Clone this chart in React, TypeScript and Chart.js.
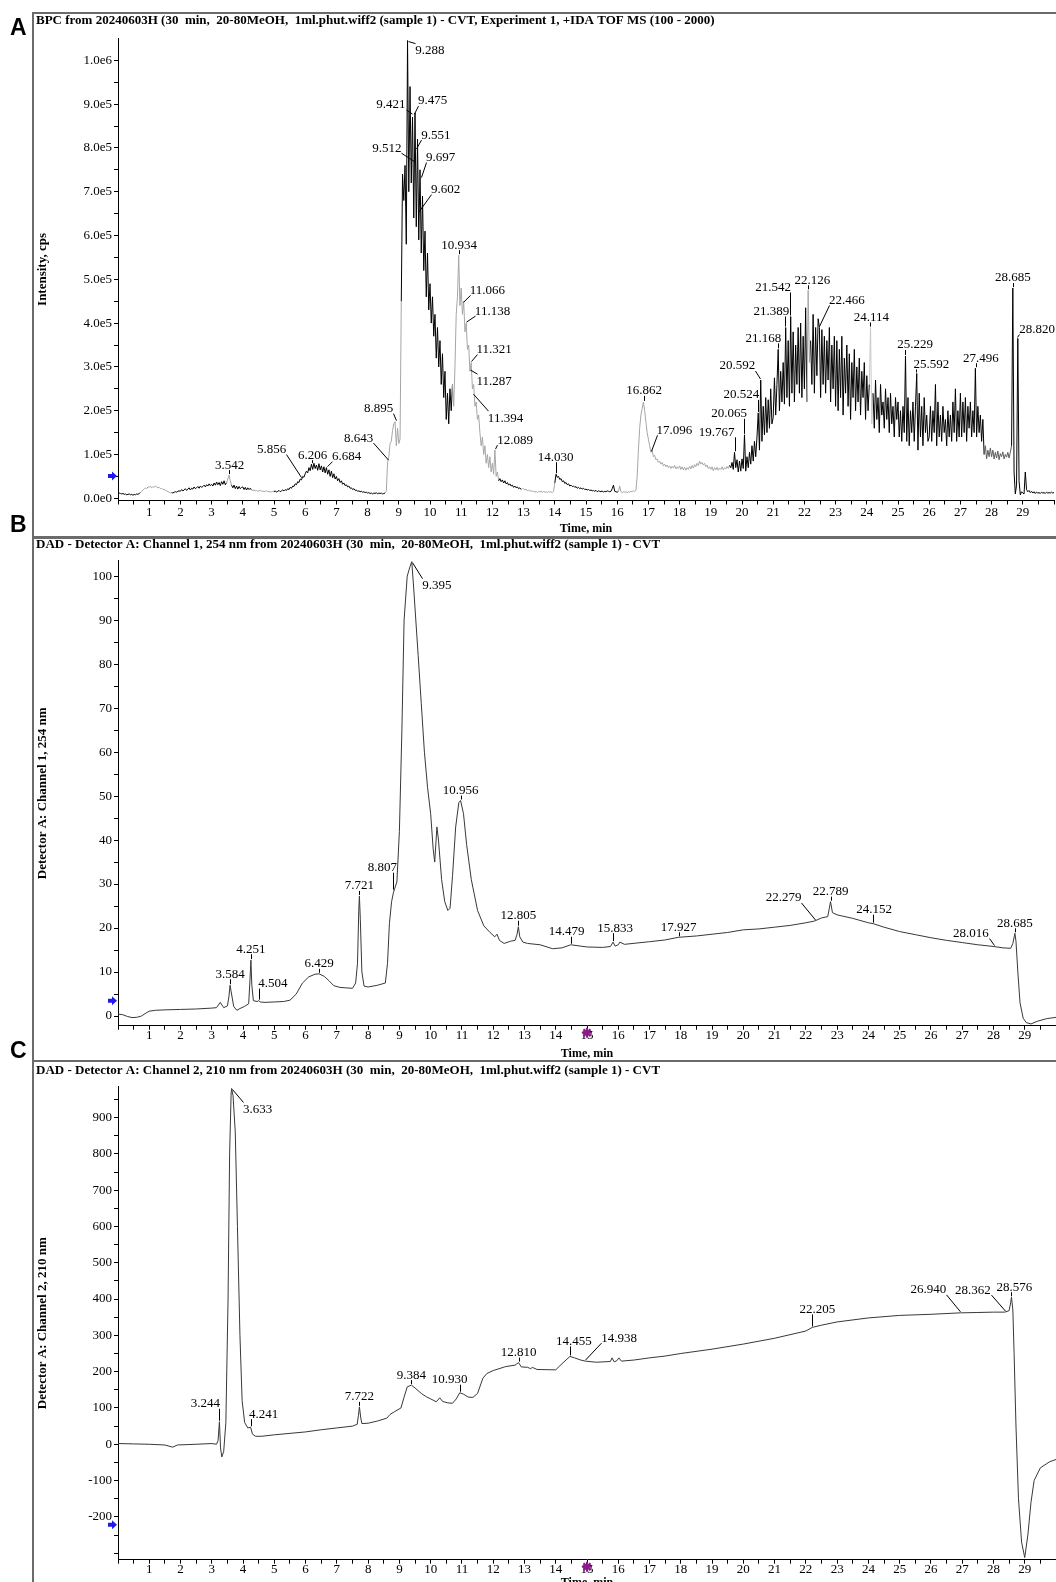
import React, { useEffect, useRef } from 'react';
import { Chart, registerables } from 'chart.js';

Chart.register(...registerables);

const SERIF = '"Liberation Serif", "Times New Roman", serif';

// ================= DATA =================
// Panel A: BPC intensity (units of 1e5 cps), sampled every 0.04 min from 0 to 30 min
const BPC_SAMPLE_STEP_MIN = 0.04;
const bpcIntensityE5 = [
  // 0 min
  0.13,0.12,0.11,0.10,0.11,0.09,0.10,0.08,0.09,0.10,0.08,0.09,0.07,0.09,0.08,0.10,0.09,0.11,0.13,0.16,0.19,0.21,0.24,0.22,0.26,
  // 1
  0.25,0.28,0.24,0.27,0.25,0.28,0.26,0.24,0.25,0.22,0.23,0.20,0.21,0.18,0.17,0.15,0.14,0.12,0.13,0.12,0.14,0.15,0.14,0.16,0.17,
  // 2
  0.16,0.20,0.17,0.19,0.22,0.18,0.21,0.24,0.19,0.23,0.21,0.26,0.22,0.24,0.27,0.23,0.28,0.25,0.27,0.30,0.26,0.31,0.28,0.33,0.29,
  // 3
  0.32,0.28,0.35,0.30,0.37,0.31,0.36,0.29,0.38,0.32,0.40,0.31,0.36,0.44,0.53,0.40,0.30,0.24,0.30,0.22,0.28,0.21,0.27,0.22,0.25,
  // 4
  0.26,0.20,0.25,0.19,0.24,0.20,0.23,0.19,0.18,0.19,0.17,0.18,0.16,0.17,0.18,0.16,0.17,0.15,0.16,0.17,0.15,0.16,0.14,0.15,0.16,
  // 5
  0.15,0.17,0.14,0.16,0.18,0.15,0.17,0.19,0.17,0.20,0.18,0.22,0.20,0.25,0.23,0.28,0.27,0.33,0.31,0.38,0.36,0.44,0.42,0.50,0.48,
  // 6
  0.56,0.62,0.58,0.70,0.63,0.78,0.66,0.80,0.68,0.76,0.64,0.79,0.65,0.74,0.60,0.72,0.58,0.70,0.55,0.65,0.50,0.62,0.47,0.56,0.44,
  // 7
  0.50,0.40,0.45,0.36,0.40,0.32,0.35,0.29,0.31,0.26,0.28,0.23,0.24,0.20,0.22,0.18,0.19,0.16,0.17,0.15,0.16,0.14,0.15,0.13,0.14,
  // 8
  0.12,0.13,0.11,0.12,0.10,0.12,0.11,0.13,0.10,0.12,0.11,0.12,0.10,0.11,0.12,0.16,0.82,0.95,1.25,1.30,1.55,1.70,1.75,1.20,1.60,
  // 9
  1.25,1.35,4.50,7.40,6.80,7.60,5.80,10.45,7.00,9.40,7.20,8.70,6.40,8.80,6.20,8.20,5.90,7.50,5.60,6.90,5.20,6.10,4.60,5.60,4.30,
  // 10
  4.90,4.00,4.60,3.70,4.20,3.20,3.90,3.00,3.60,2.60,3.30,2.30,2.90,1.80,2.40,1.70,2.50,2.00,2.60,2.10,3.00,4.20,4.60,5.55,4.40,
  // 11
  4.80,4.20,4.50,3.80,4.00,3.40,3.50,2.90,3.10,2.50,2.60,2.10,2.20,1.80,1.90,1.50,1.20,1.40,1.00,1.20,0.80,1.00,0.70,0.95,0.60,
  // 12
  0.80,0.55,1.10,0.50,0.60,0.40,0.45,0.38,0.42,0.35,0.40,0.33,0.36,0.30,0.33,0.28,0.30,0.25,0.28,0.24,0.26,0.22,0.24,0.20,0.22,
  // 13
  0.22,0.19,0.21,0.17,0.19,0.16,0.18,0.15,0.17,0.14,0.16,0.13,0.16,0.14,0.17,0.13,0.16,0.14,0.15,0.13,0.16,0.14,0.15,0.13,0.16,
  // 14
  0.35,0.55,0.48,0.50,0.43,0.45,0.38,0.40,0.34,0.36,0.31,0.33,0.28,0.30,0.27,0.28,0.25,0.27,0.23,0.25,0.22,0.24,0.21,0.23,0.20,
  // 15
  0.21,0.19,0.20,0.18,0.19,0.17,0.18,0.16,0.18,0.15,0.17,0.16,0.15,0.17,0.14,0.16,0.15,0.17,0.16,0.15,0.16,0.22,0.30,0.16,0.15,
  // 16
  0.14,0.16,0.28,0.15,0.13,0.15,0.14,0.15,0.13,0.15,0.14,0.16,0.15,0.17,0.16,0.18,0.50,1.10,1.60,1.90,2.05,2.20,2.00,1.75,1.50,
  // 17
  1.35,1.20,1.05,1.10,0.95,0.98,0.88,0.90,0.82,0.85,0.78,0.82,0.74,0.78,0.72,0.76,0.70,0.74,0.68,0.73,0.69,0.75,0.67,0.72,0.68,
  // 18
  0.74,0.66,0.72,0.65,0.71,0.64,0.70,0.66,0.73,0.67,0.75,0.69,0.77,0.72,0.80,0.75,0.85,0.78,0.82,0.76,0.80,0.72,0.76,0.68,0.72,
  // 19
  0.66,0.72,0.63,0.70,0.65,0.71,0.64,0.69,0.66,0.72,0.65,0.70,0.67,0.73,0.68,0.75,0.70,0.82,0.66,1.05,0.70,0.88,0.60,0.85,0.62,
  // 20
  0.90,0.68,1.45,0.62,0.95,0.70,1.05,0.78,1.20,0.85,1.30,0.95,1.40,1.95,1.10,2.70,1.30,2.10,1.45,2.30,1.50,2.25,1.60,2.50,1.70,
  // 21
  1.85,2.75,1.90,2.60,3.40,2.00,2.90,2.20,3.10,2.15,3.90,2.30,3.60,2.10,4.15,2.40,3.80,2.20,3.50,2.60,3.90,2.40,4.00,2.30,3.70,
  // 22
  2.50,4.35,2.20,4.75,3.10,3.60,2.60,4.20,2.40,3.90,2.80,4.10,3.90,2.30,3.85,2.60,3.70,2.40,3.60,2.70,3.90,2.20,3.50,2.50,3.70,
  // 23
  2.10,3.60,2.00,3.40,2.30,3.70,1.90,3.20,2.40,3.50,2.10,3.30,1.80,3.10,2.30,3.40,2.00,3.00,2.20,3.20,1.90,2.90,2.30,3.10,1.80,
  // 24
  2.80,2.00,2.60,3.90,1.70,2.40,1.60,2.70,1.80,2.30,1.50,2.60,1.90,2.20,1.60,2.50,1.80,2.30,1.50,2.40,1.70,2.10,1.40,2.30,1.80,
  // 25
  2.20,1.40,2.00,1.30,2.10,1.50,3.25,1.30,2.30,1.20,2.00,1.50,2.20,1.30,2.10,2.85,1.10,2.40,1.40,2.10,1.20,2.30,1.50,1.90,1.30,
  // 26
  1.40,2.10,1.30,2.00,1.50,2.60,1.20,2.20,1.40,1.90,1.30,2.10,1.50,1.80,1.20,2.00,1.40,1.90,1.30,2.20,1.50,2.50,1.30,2.00,1.40,
  // 27
  2.40,1.40,2.20,1.50,2.30,1.30,2.10,1.60,2.20,1.40,2.00,1.50,2.97,1.40,2.10,1.50,1.90,1.30,1.80,1.00,1.20,0.90,1.10,0.95,1.15,
  // 28
  0.95,1.10,0.90,1.05,0.92,1.08,0.88,1.02,0.95,1.06,0.90,1.00,0.94,1.05,0.92,1.05,1.20,4.80,0.60,0.10,0.30,3.65,0.40,0.08,0.15,
  // 29
  0.12,0.10,0.60,0.20,0.15,0.18,0.13,0.16,0.12,0.15,0.11,0.14,0.12,0.13,0.11,0.14,0.12,0.13,0.11,0.14,0.12,0.13,0.12,0.14,0.12,
  // 30
  0.13,
];
const bpcTimes = bpcIntensityE5.map((_, i) => Math.round(i * BPC_SAMPLE_STEP_MIN * 100) / 100);

// Panel B: DAD channel 1, 254 nm
const dad254Times = [
  0, 0.15, 0.3, 0.45, 0.6, 0.75, 0.9, 1.0, 1.2, 1.5,
  2.0, 2.5, 3.0, 3.15, 3.27, 3.38, 3.5, 3.55, 3.584, 3.62,
  3.7, 3.8, 3.9, 4.05, 4.18, 4.22, 4.251, 4.28, 4.33, 4.45,
  4.504, 4.55, 4.7, 5.0, 5.3, 5.5, 5.7, 5.9, 6.1, 6.3,
  6.429, 6.6, 6.75, 6.9, 7.1, 7.3, 7.5, 7.6, 7.66, 7.70,
  7.721, 7.75, 7.80, 7.87, 8.0, 8.3, 8.55, 8.62, 8.68, 8.75,
  8.807, 8.85, 8.92, 9.0, 9.08, 9.15, 9.25, 9.34, 9.395, 9.45,
  9.6, 9.7, 9.8, 9.9, 10.0, 10.08, 10.13, 10.2, 10.25, 10.35,
  10.45, 10.55, 10.62, 10.7, 10.8, 10.9, 10.956, 11.05, 11.15, 11.3,
  11.5, 11.7, 11.9, 12.05, 12.12, 12.2, 12.35, 12.55, 12.7, 12.76,
  12.805, 12.85, 12.95, 13.1, 13.5, 13.9, 14.2, 14.479, 15.0, 15.5,
  15.75, 15.833, 15.9, 16.0, 16.05, 16.2, 16.6, 17.0, 17.5, 17.927,
  18.5, 19.0, 19.5, 20.0, 20.5, 21.0, 21.5, 22.0, 22.279, 22.5,
  22.7, 22.75, 22.789, 22.85, 23.0, 23.5, 24.0, 24.152, 24.5, 25.0,
  25.5, 26.0, 26.5, 27.0, 27.5, 28.016, 28.3, 28.55, 28.62, 28.685,
  28.72, 28.78, 28.85, 28.95, 29.05, 29.2, 29.4, 29.7, 30.0,
];
const dad254Values = [
  0.45, 0.3, -0.1, -0.35, -0.3, 0.0, 0.7, 1.1, 1.3, 1.4,
  1.5, 1.6, 1.8, 1.9, 3.1, 1.9, 2.3, 4.5, 7.0, 5.5,
  2.2, 1.3, 1.7, 2.2, 2.8, 8.0, 12.7, 7.0, 3.5, 3.3,
  3.5, 3.2, 3.1, 3.2, 3.3, 3.6, 5.0, 7.5, 8.9, 9.5,
  9.6, 9.0, 8.0, 6.9, 6.5, 6.4, 6.3, 7.5, 12, 24,
  27.3, 22, 10, 6.8, 6.6, 7.0, 7.5, 12, 21, 26,
  28, 29, 30.5, 42, 65, 90, 100, 102.2, 103.3, 98,
  82, 71, 60, 52, 46, 38, 35, 43, 40, 31,
  26, 24, 24.5, 32, 43, 48.5, 49, 46, 39, 31,
  24, 20.5, 19, 18, 18.6, 17.2, 16.5, 17, 17.2, 18.5,
  20.3, 18, 16.8, 16.5, 16.2, 15.3, 15.5, 16.2, 15.7, 15.6,
  15.8, 16.8, 15.9, 16.2, 16.8, 16.3, 16.6, 16.9, 17.3, 17.9,
  18.2, 18.6, 19.0, 19.6, 19.8, 20.2, 20.6, 21.2, 21.6, 22.3,
  22.6, 24.5, 26.0, 23.5, 23.0, 22.2, 21.2, 21.0, 20.2, 19.2,
  18.5, 17.8, 17.2, 16.7, 16.2, 15.8, 15.5, 15.4, 16.5, 18.8,
  17, 10, 3, -0.5, -1.5, -1.8, -1.2, -0.6, -0.3,
];

// Panel C: DAD channel 2, 210 nm
const dad210Times = [
  0, 0.5, 1.0, 1.5, 1.75, 1.9, 2.5, 3.0, 3.15, 3.2,
  3.244, 3.28, 3.32, 3.38, 3.45, 3.52, 3.57, 3.62, 3.633, 3.68,
  3.75, 3.82, 3.9, 3.97, 4.05, 4.15, 4.241, 4.3, 4.4, 4.6,
  5.0, 5.5, 6.0, 6.5, 7.0, 7.5, 7.65, 7.69, 7.722, 7.76,
  7.8, 8.0, 8.3, 8.6, 8.7, 8.85, 9.05, 9.15, 9.25, 9.384,
  9.5, 9.7, 9.86, 10.0, 10.18, 10.29, 10.38, 10.55, 10.7, 10.82,
  10.93, 11.05, 11.2, 11.35, 11.5, 11.67, 11.8, 12.0, 12.4, 12.7,
  12.81, 12.9, 13.1, 13.2, 13.25, 13.4, 14.0, 14.2, 14.455, 14.6,
  14.8, 14.95, 15.3, 15.75, 15.8, 15.87, 15.95, 16.02, 16.1, 16.5,
  17.0, 17.5, 18.0, 19.0, 20.0, 21.0, 22.0, 22.205, 22.5, 23.0,
  24.0, 25.0, 26.0, 26.94, 27.5, 28.0, 28.362, 28.5, 28.55, 28.576,
  28.62, 28.66, 28.72, 28.8, 28.9, 29.0, 29.1, 29.2, 29.3, 29.5,
  29.8, 30.0,
];
const dad210Values = [
  2, 1, 0, -2, -8, -2, 0, 2, 0, 10,
  62, -10, -35, -20, 60, 400, 800, 972, 980, 960,
  860, 600, 300, 120, 60, 45, 47, 28, 22, 22,
  26, 30, 34, 40, 45, 50, 55, 80, 103, 75,
  57, 58, 64, 72, 82, 90, 100, 130, 158, 163,
  155, 140, 131, 125, 117, 128, 118, 114, 113, 125,
  142, 138, 130, 129, 140, 182, 195, 203, 214, 218,
  225, 213, 212, 208, 212, 206, 205, 222, 242, 238,
  232, 229, 226, 228, 238, 227, 230, 238, 229, 232,
  238, 243, 250, 262, 276, 292, 312, 322, 328, 337,
  348, 355, 358, 362, 363, 364, 364, 368, 390, 405,
  370, 250, 50, -150, -270, -312, -250, -160, -100, -65,
  -48, -42,
];

// Axis ticks
const yTicksA = [0, 0.5, 1, 1.5, 2, 2.5, 3, 3.5, 4, 4.5, 5, 5.5, 6, 6.5, 7, 7.5, 8, 8.5, 9, 9.5, 10];
const yTicksB = [0, 5, 10, 15, 20, 25, 30, 35, 40, 45, 50, 55, 60, 65, 70, 75, 80, 85, 90, 95, 100];
const yTicksC = [-300, -250, -200, -150, -100, -50, 0, 50, 100, 150, 200, 250, 300, 350, 400, 450, 500, 550, 600, 650, 700, 750, 800, 850, 900, 950];

// Peak labels (anchor in data units; dx/dy = label offset in px)
type Peak = { text: string; t: number; v: number; dx: number; dy: number };
const peaksA: Peak[] = [
  { text: '3.542', t: 3.542, v: 0.53, dx: 1, dy: -11 },
  { text: '5.856', t: 5.856, v: 0.45, dx: -29, dy: -30 },
  { text: '6.206', t: 6.206, v: 0.78, dx: 1, dy: -10 },
  { text: '6.684', t: 6.684, v: 0.70, dx: 20, dy: -12 },
  { text: '8.643', t: 8.643, v: 0.85, dx: -29, dy: -24 },
  { text: '8.895', t: 8.895, v: 1.75, dx: -17, dy: -14 },
  { text: '9.288', t: 9.288, v: 10.45, dx: 22, dy: 9 },
  { text: '9.421', t: 9.421, v: 8.75, dx: -21, dy: -11 },
  { text: '9.475', t: 9.475, v: 8.75, dx: 19, dy: -15 },
  { text: '9.512', t: 9.512, v: 7.65, dx: -28, dy: -16 },
  { text: '9.551', t: 9.551, v: 7.95, dx: 20, dy: -16 },
  { text: '9.697', t: 9.697, v: 7.3, dx: 20, dy: -22 },
  { text: '9.602', t: 9.602, v: 6.5, dx: 28, dy: -25 },
  { text: '10.934', t: 10.934, v: 5.55, dx: 0, dy: -11 },
  { text: '11.066', t: 11.066, v: 4.45, dx: 24, dy: -14 },
  { text: '11.138', t: 11.138, v: 4.0, dx: 27, dy: -13 },
  { text: '11.321', t: 11.321, v: 3.1, dx: 23, dy: -14 },
  { text: '11.287', t: 11.287, v: 2.95, dx: 24, dy: 11 },
  { text: '11.394', t: 11.394, v: 2.4, dx: 32, dy: 24 },
  { text: '12.089', t: 12.089, v: 1.1, dx: 20, dy: -11 },
  { text: '14.030', t: 14.03, v: 0.55, dx: 0, dy: -18 },
  { text: '16.862', t: 16.862, v: 2.2, dx: 0, dy: -12 },
  { text: '17.096', t: 17.096, v: 1.05, dx: 23, dy: -23 },
  { text: '19.767', t: 19.767, v: 1.05, dx: -18, dy: -21 },
  { text: '20.065', t: 20.065, v: 1.45, dx: -15, dy: -22 },
  { text: '20.524', t: 20.524, v: 1.95, dx: -17, dy: -19 },
  { text: '20.592', t: 20.592, v: 2.7, dx: -23, dy: -15 },
  { text: '21.168', t: 21.168, v: 3.4, dx: -15, dy: -12 },
  { text: '21.389', t: 21.389, v: 3.9, dx: -14, dy: -17 },
  { text: '21.542', t: 21.542, v: 4.15, dx: -17, dy: -30 },
  { text: '22.126', t: 22.126, v: 4.75, dx: 4, dy: -11 },
  { text: '22.466', t: 22.466, v: 3.9, dx: 28, dy: -28 },
  { text: '24.114', t: 24.114, v: 3.9, dx: 1, dy: -11 },
  { text: '25.229', t: 25.229, v: 3.25, dx: 10, dy: -12 },
  { text: '25.592', t: 25.592, v: 2.85, dx: 15, dy: -10 },
  { text: '27.496', t: 27.496, v: 2.97, dx: 5, dy: -11 },
  { text: '28.685', t: 28.685, v: 4.8, dx: 0, dy: -11 },
  { text: '28.820', t: 28.82, v: 3.65, dx: 20, dy: -10 },
];
const peaksB: Peak[] = [
  { text: '3.584', t: 3.584, v: 7.0, dx: 0, dy: -12 },
  { text: '4.251', t: 4.251, v: 12.7, dx: 0, dy: -12 },
  { text: '4.504', t: 4.504, v: 3.5, dx: 14, dy: -18 },
  { text: '6.429', t: 6.429, v: 9.6, dx: 0, dy: -11 },
  { text: '7.721', t: 7.721, v: 27.3, dx: 0, dy: -11 },
  { text: '8.807', t: 8.807, v: 28.5, dx: -11, dy: -24 },
  { text: '9.395', t: 9.395, v: 103.3, dx: 25, dy: 23 },
  { text: '10.956', t: 10.956, v: 49, dx: 0, dy: -11 },
  { text: '12.805', t: 12.805, v: 20.3, dx: 0, dy: -12 },
  { text: '14.479', t: 14.479, v: 16.2, dx: -4, dy: -14 },
  { text: '15.833', t: 15.833, v: 16.8, dx: 2, dy: -15 },
  { text: '17.927', t: 17.927, v: 17.9, dx: 0, dy: -11 },
  { text: '22.279', t: 22.279, v: 21.6, dx: -31, dy: -24 },
  { text: '22.789', t: 22.789, v: 26, dx: 0, dy: -11 },
  { text: '24.152', t: 24.152, v: 21.0, dx: 1, dy: -15 },
  { text: '28.016', t: 28.016, v: 15.8, dx: -23, dy: -14 },
  { text: '28.685', t: 28.685, v: 18.8, dx: 0, dy: -11 },
];
const peaksC: Peak[] = [
  { text: '3.244', t: 3.244, v: 62, dx: -14, dy: -19 },
  { text: '3.633', t: 3.633, v: 980, dx: 26, dy: 20 },
  { text: '4.241', t: 4.241, v: 47, dx: 13, dy: -14 },
  { text: '7.722', t: 7.722, v: 103, dx: 0, dy: -11 },
  { text: '9.384', t: 9.384, v: 163, dx: 0, dy: -11 },
  { text: '10.930', t: 10.93, v: 142, dx: -10, dy: -14 },
  { text: '12.810', t: 12.81, v: 225, dx: 0, dy: -11 },
  { text: '14.455', t: 14.455, v: 242, dx: 4, dy: -16 },
  { text: '14.938', t: 14.938, v: 229, dx: 34, dy: -24 },
  { text: '22.205', t: 22.205, v: 322, dx: 5, dy: -19 },
  { text: '26.940', t: 26.94, v: 362, dx: -32, dy: -24 },
  { text: '28.362', t: 28.362, v: 364, dx: -32, dy: -23 },
  { text: '28.576', t: 28.576, v: 405, dx: 3, dy: -11 },
];

// Trace colour bands of the BPC trace (style)
const bpcColorBands: [number, number, string][] = [
  [0.70, 1.70, '#a6a6a6'],
  [3.48, 3.62, '#a6a6a6'],
  [4.28, 5.00, '#a6a6a6'],
  [8.56, 9.06, '#a6a6a6'],
  [10.70, 12.20, '#a6a6a6'],
  [12.90, 13.98, '#a6a6a6'],
  [16.04, 19.60, '#a6a6a6'],
  [22.06, 22.18, '#a6a6a6'],
  [24.06, 24.18, '#c8c8c8'],
  [27.76, 28.62, '#5e5e5e'],
];
function bpcColorAt(t: number): string {
  for (const [a, b, c] of bpcColorBands) if (t >= a && t < b) return c;
  return '#000000';
}

// ================= PANELS =================
type PanelSpec = {
  key: string;
  top: number;
  height: number;
  padTop: number;
  xAxisH: number;
  xTickPad: number;
  xTitlePadB: number;
  yMin: number;
  yMax: number;
  yTicks: number[];
  yLabel: (v: number) => string;
  yTitle: string;
  title: string;
  titleY: number;
  times: number[];
  values: number[];
  lineColor: string;
  segmented: boolean;
  peaks: Peak[];
  arrowValue: number;
  asterisk: boolean;
};

const panels: PanelSpec[] = [
  {
    key: 'A', top: 0, height: 537, padTop: 38.4, xAxisH: 36.5, xTickPad: 2, xTitlePadB: 0.5,
    yMin: -0.05, yMax: 10.5, yTicks: yTicksA,
    yLabel: (v) => (Number.isInteger(v) ? (v === 0 ? '0.0e0' : v === 10 ? '1.0e6' : v.toFixed(1) + 'e5') : ''),
    yTitle: 'Intensity, cps',
    title: 'BPC from 20240603H (30  min,  20-80MeOH,  1ml.phut.wiff2 (sample 1) - CVT, Experiment 1, +IDA TOF MS (100 - 2000)',
    titleY: 21, times: bpcTimes, values: bpcIntensityE5, lineColor: '#000', segmented: true,
    peaks: peaksA, arrowValue: 0.51, asterisk: false,
  },
  {
    key: 'B', top: 537, height: 524, padTop: 23.8, xAxisH: 35.3, xTickPad: -1, xTitlePadB: 0,
    yMin: -2.2, yMax: 103.5, yTicks: yTicksB,
    yLabel: (v) => (v % 10 === 0 ? String(v) : ''),
    yTitle: 'Detector A: Channel 1, 254 nm',
    title: 'DAD - Detector A: Channel 1, 254 nm from 20240603H (30  min,  20-80MeOH,  1ml.phut.wiff2 (sample 1) - CVT',
    titleY: 8, times: dad254Times, values: dad254Values, lineColor: '#383838', segmented: false,
    peaks: peaksB, arrowValue: 3.5, asterisk: true,
  },
  {
    key: 'C', top: 1061, height: 539, padTop: 25.7, xAxisH: 40.3, xTickPad: -1, xTitlePadB: 9.8,
    yMin: -318, yMax: 985, yTicks: yTicksC,
    yLabel: (v) => (v % 100 === 0 && v >= -200 && v <= 900 ? String(v) : ''),
    yTitle: 'Detector A: Channel 2, 210 nm',
    title: 'DAD - Detector A: Channel 2, 210 nm from 20240603H (30  min,  20-80MeOH,  1ml.phut.wiff2 (sample 1) - CVT',
    titleY: 10, times: dad210Times, values: dad210Values, lineColor: '#383838', segmented: false,
    peaks: peaksC, arrowValue: -222, asterisk: true,
  },
];

function makeOverlay(spec: PanelSpec) {
  return {
    id: 'overlay' + spec.key,
    afterDraw(chart: any) {
      const { ctx, chartArea } = chart;
      const xs = chart.scales.x;
      const ys = chart.scales.y;
      ctx.save();
      // panel title
      ctx.fillStyle = '#000';
      ctx.font = `bold 13px ${SERIF}`;
      ctx.textAlign = 'left';
      ctx.textBaseline = 'middle';
      ctx.fillText(spec.title, 36, spec.titleY);
      // peak labels
      ctx.font = `13px ${SERIF}`;
      ctx.textAlign = 'center';
      ctx.strokeStyle = '#000';
      ctx.lineWidth = 1;
      for (const p of spec.peaks) {
        const ax = xs.getPixelForValue(p.t);
        const ay = ys.getPixelForValue(p.v);
        const lx = ax + p.dx;
        const ly = ay + p.dy;
        const w = ctx.measureText(p.text).width;
        const h = 10;
        ctx.fillText(p.text, lx, ly + 1);
        let ex = Math.min(Math.max(ax, lx - w / 2), lx + w / 2);
        let ey: number;
        if (ay > ly + h / 2) ey = ly + h / 2 + 1;
        else if (ay < ly - h / 2) ey = ly - h / 2 - 1;
        else {
          ey = ly;
          ex = ax < lx ? lx - w / 2 - 1 : lx + w / 2 + 1;
        }
        const sy = ay + (ey < ay ? -1 : 1);
        ctx.beginPath();
        ctx.moveTo(Math.round(ax) + 0.5, sy);
        ctx.lineTo(Math.round(ex) + 0.5, ey);
        ctx.stroke();
      }
      // blue arrow on y axis
      const ay = ys.getPixelForValue(spec.arrowValue);
      const axr = chartArea.left - 1;
      ctx.fillStyle = '#1c1cf0';
      ctx.beginPath();
      ctx.moveTo(axr, ay);
      ctx.lineTo(axr - 5, ay - 4.5);
      ctx.lineTo(axr - 5, ay - 2);
      ctx.lineTo(axr - 9, ay - 2);
      ctx.lineTo(axr - 9, ay + 2);
      ctx.lineTo(axr - 5, ay + 2);
      ctx.lineTo(axr - 5, ay + 4.5);
      ctx.closePath();
      ctx.fill();
      // purple asterisk
      if (spec.asterisk) {
        const sx = xs.getPixelForValue(15);
        const sy = chartArea.bottom + 7;
        ctx.strokeStyle = '#8b1a8b';
        ctx.lineWidth = 2.2;
        for (let k = 0; k < 4; k++) {
          const ang = (k * Math.PI) / 4;
          ctx.beginPath();
          ctx.moveTo(sx - 5 * Math.cos(ang), sy - 5 * Math.sin(ang));
          ctx.lineTo(sx + 5 * Math.cos(ang), sy + 5 * Math.sin(ang));
          ctx.stroke();
        }
      }
      ctx.restore();
    },
  };
}

function buildConfig(spec: PanelSpec): any {
  const points = spec.times.map((t, i) => ({ x: t, y: spec.values[i] }));
  const dataset: any = {
    data: points,
    borderColor: spec.lineColor,
    borderWidth: 1,
    pointRadius: 0,
    tension: 0,
    fill: false,
  };
  if (spec.segmented) {
    dataset.segment = { borderColor: (c: any) => bpcColorAt(c.p0.parsed.x) };
  }
  return {
    type: 'line',
    data: { datasets: [dataset] },
    options: {
      responsive: false,
      animation: false,
      devicePixelRatio: 1,
      events: [],
      layout: { padding: { top: spec.padTop, left: 0, right: 0, bottom: 0 } },
      plugins: { legend: { display: false }, tooltip: { enabled: false }, title: { display: false } },
      scales: {
        x: {
          type: 'linear',
          position: 'bottom',
          min: 0,
          max: 30,
          afterFit: (s: any) => { s.height = spec.xAxisH; },
          ticks: {
            stepSize: 0.5,
            autoSkip: false,
            maxRotation: 0,
            minRotation: 0,
            padding: spec.xTickPad,
            color: '#000',
            font: { family: SERIF, size: 13, lineHeight: 1 },
            callback: (v: number) => (Number.isInteger(v) && v >= 1 && v <= 29 ? String(v) : ''),
          },
          grid: { drawOnChartArea: false, drawTicks: true, tickLength: 4, color: '#000', lineWidth: 1 },
          border: { display: true, color: '#000', width: 1 },
          title: {
            display: true,
            text: 'Time, min',
            color: '#000',
            font: { family: SERIF, size: 12, weight: 'bold', lineHeight: 1.2 },
            padding: { top: 0, bottom: spec.xTitlePadB },
          },
        },
        y: {
          type: 'linear',
          position: 'left',
          min: spec.yMin,
          max: spec.yMax,
          afterFit: (s: any) => { s.width = 118; },
          afterBuildTicks: (s: any) => { s.ticks = spec.yTicks.map((v) => ({ value: v })); },
          ticks: {
            autoSkip: false,
            padding: 2,
            color: '#000',
            font: { family: SERIF, size: 13, lineHeight: 1 },
            callback: (v: number) => spec.yLabel(v),
          },
          grid: { drawOnChartArea: false, drawTicks: true, tickLength: 4, color: '#000', lineWidth: 1 },
          border: { display: true, color: '#000', width: 1 },
          title: {
            display: true,
            text: spec.yTitle,
            color: '#000',
            font: { family: SERIF, size: 13, weight: 'bold', lineHeight: 1.2 },
            padding: { top: 34.5, bottom: 0 },
          },
        },
      },
    },
    plugins: [makeOverlay(spec)],
  };
}

function Panel({ spec }: { spec: PanelSpec }) {
  const ref = useRef<HTMLCanvasElement | null>(null);
  useEffect(() => {
    if (!ref.current) return;
    const chart = new Chart(ref.current, buildConfig(spec));
    return () => chart.destroy();
  }, [spec]);
  return (
    <canvas
      ref={ref}
      width={1056}
      height={spec.height}
      style={{ position: 'absolute', left: 0, top: spec.top, width: 1056, height: spec.height, display: 'block' }}
    />
  );
}

const frameStyle = (top: number, height: number): React.CSSProperties => ({
  position: 'absolute',
  left: 32,
  top,
  width: 1100,
  height,
  border: '2px solid #6b6b6b',
  boxSizing: 'border-box',
  pointerEvents: 'none',
});

const letterStyle = (top: number): React.CSSProperties => ({
  position: 'absolute',
  left: 10,
  top,
  font: 'bold 23px "Liberation Sans", Arial, sans-serif',
  lineHeight: '23px',
  color: '#000',
});

export default function App() {
  return (
    <div style={{ position: 'absolute', left: 0, top: 0, width: 1056, height: 1582, overflow: 'hidden', background: '#fff' }}>
      {panels.map((p) => (
        <Panel key={p.key} spec={p} />
      ))}
      <div style={frameStyle(12, 526)} />
      <div style={frameStyle(537, 525)} />
      <div style={frameStyle(1060, 600)} />
      <div style={letterStyle(15.5)}>A</div>
      <div style={letterStyle(513)}>B</div>
      <div style={letterStyle(1038.5)}>C</div>
    </div>
  );
}
